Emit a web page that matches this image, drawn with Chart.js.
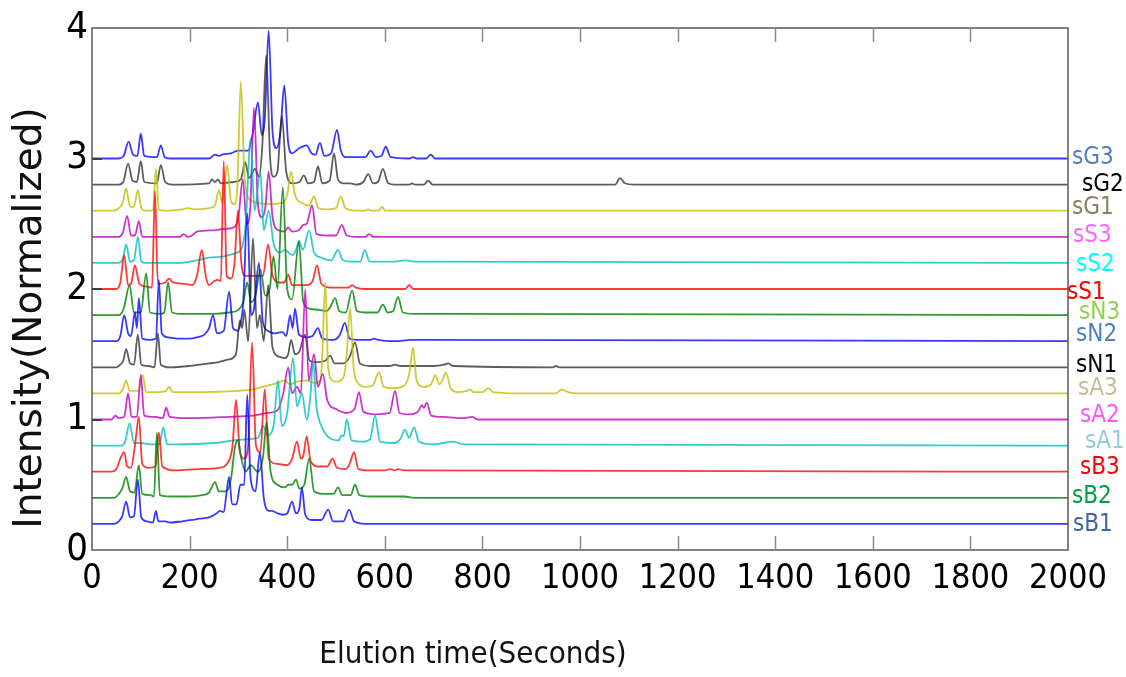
<!DOCTYPE html>
<html><head><meta charset="utf-8">
<script src="https://cdn.jsdelivr.net/npm/chart.js@4.4.1/dist/chart.umd.min.js"></script>
<style>html,body{margin:0;padding:0;background:#fff;}#wrap{width:1126px;height:677px;}</style>
</head><body><div id="wrap"><canvas id="c" width="1126" height="677"></canvas></div>
<script>
// ---- data (bottom to top) ----
const seriesNames = ['sB1','sB2','sB3','sA1','sA2','sA3','sN1','sN2','sN3','sS1','sS2','sS3','sG1','sG2','sG3'];
const baselines = [0.2,0.4,0.6,0.8,1.0,1.2,1.4,1.6,1.8,2.0,2.2,2.4,2.6,2.8,3.0];
const xTickValues = [0,200,400,600,800,1000,1200,1400,1600,1800,2000];
const yTickValues = [0,1,2,3,4];

const sB1 = [[0,0.2],[45,0.2],[55,0.22],[62,0.26],[70,0.37],[78,0.25],[86,0.26],[94,0.54],[101,0.25],[112,0.22],[125,0.21],[131,0.3],[136,0.22],[150,0.22],[160,0.21],[185,0.22],[205,0.23],[220,0.24],[240,0.25],[255,0.28],[262,0.3],[270,0.29],[276,0.45],[281,0.56],[287,0.35],[296,0.35],[304,0.5],[312,0.5],[318,1.19],[325,0.55],[335,0.45],[344,0.75],[352,0.4],[362,0.3],[369,0.3],[380,0.28],[392,0.27],[400,0.28],[410,0.37],[418,0.28],[425,0.32],[430,0.48],[437,0.27],[450,0.23],[470,0.23],[484,0.31],[494,0.22],[515,0.22],[527,0.31],[537,0.22],[560,0.2],[2000,0.2]];
const sB2 = [[0,0.4],[45,0.4],[55,0.43],[62,0.47],[70,0.56],[78,0.45],[87,0.44],[96,0.65],[103,0.43],[120,0.42],[127,0.41],[133,0.9],[139,0.42],[160,0.41],[200,0.41],[225,0.42],[240,0.44],[252,0.52],[260,0.45],[275,0.45],[285,0.55],[293,0.79],[299,0.84],[306,0.7],[315,0.6],[325,0.65],[340,0.6],[350,0.7],[358,0.98],[366,0.6],[380,0.5],[395,0.48],[402,0.5],[410,0.5],[418,0.54],[425,0.47],[435,0.5],[445,0.7],[455,0.45],[475,0.43],[495,0.43],[504,0.48],[513,0.42],[530,0.42],[539,0.5],[548,0.42],[570,0.41],[640,0.41],[660,0.4],[2000,0.4]];
const sB3 = [[0,0.6],[40,0.6],[50,0.62],[58,0.7],[66,0.75],[72,0.64],[80,0.63],[88,0.8],[96,1.02],[103,0.66],[115,0.63],[130,0.64],[137,0.9],[144,0.64],[170,0.61],[220,0.62],[260,0.63],[280,0.68],[288,0.8],[295,1.15],[303,0.75],[312,0.7],[320,0.8],[328,1.59],[336,0.8],[345,0.75],[354,1.23],[362,0.7],[380,0.66],[400,0.65],[410,0.7],[420,0.83],[428,0.7],[433,0.72],[440,0.87],[448,0.68],[465,0.64],[482,0.64],[493,0.7],[502,0.63],[520,0.62],[528,0.66],[537,0.75],[546,0.62],[570,0.61],[600,0.61],[612,0.62],[620,0.61],[627,0.62],[640,0.61],[2000,0.6]];
const sA1 = [[0,0.8],[60,0.8],[68,0.83],[77,0.97],[86,0.82],[100,0.82],[120,0.81],[138,0.81],[146,0.94],[154,0.81],[170,0.81],[250,0.82],[290,0.84],[320,0.85],[340,0.86],[351,0.95],[360,0.88],[372,0.95],[381,1.3],[389,0.95],[400,1.05],[412,1.47],[420,1.1],[430,1.2],[440,1.0],[448,1.2],[453,1.45],[460,1.1],[470,0.95],[490,0.85],[505,0.84],[512,0.88],[516,0.87],[522,1.0],[532,0.84],[555,0.83],[570,0.85],[580,1.03],[590,0.83],[620,0.82],[632,0.85],[641,0.92],[650,0.86],[660,0.94],[670,0.83],[700,0.81],[720,0.82],[740,0.83],[760,0.81],[2000,0.8]];
const sA2 = [[0,1.0],[40,1.0],[48,1.03],[55,1.01],[66,1.02],[74,1.2],[81,1.02],[92,1.02],[100,1.34],[107,1.03],[130,1.02],[145,1.01],[152,1.09],[159,1.02],[200,1.01],[280,1.02],[330,1.03],[360,1.05],[380,1.07],[392,1.2],[402,1.4],[410,1.2],[420,1.25],[428,1.2],[437,2.0],[444,1.3],[455,1.5],[463,1.25],[473,1.35],[482,1.15],[500,1.08],[520,1.05],[538,1.08],[547,1.21],[556,1.06],[580,1.04],[610,1.05],[621,1.22],[630,1.05],[650,1.04],[668,1.06],[676,1.11],[680,1.09],[686,1.13],[695,1.03],[720,1.02],[760,1.01],[779,1.02],[790,1.0],[2000,1.0]];
const sA3 = [[0,1.2],[55,1.2],[63,1.23],[70,1.3],[77,1.22],[95,1.22],[104,1.34],[111,1.21],[140,1.21],[152,1.22],[158,1.25],[165,1.21],[200,1.21],[300,1.22],[330,1.23],[348,1.25],[360,1.26],[380,1.28],[395,1.3],[405,1.27],[420,1.29],[440,1.3],[455,1.28],[468,1.3],[472,1.5],[478,2.05],[484,1.4],[492,1.3],[500,1.29],[515,1.32],[522,1.5],[529,1.85],[536,1.4],[545,1.28],[560,1.25],[575,1.26],[588,1.36],[598,1.25],[620,1.24],[640,1.26],[650,1.35],[658,1.55],[665,1.3],[680,1.25],[695,1.27],[703,1.34],[712,1.27],[718,1.3],[725,1.36],[735,1.24],[750,1.21],[768,1.22],[775,1.23],[782,1.21],[800,1.21],[812,1.24],[822,1.21],[880,1.2],[950,1.2],[963,1.23],[975,1.21],[1000,1.2],[2000,1.2]];
const sN1 = [[0,1.4],[50,1.4],[58,1.42],[64,1.45],[70,1.54],[78,1.43],[86,1.42],[94,1.65],[101,1.42],[115,1.41],[128,1.4],[135,1.66],[141,1.42],[160,1.4],[200,1.41],[220,1.42],[240,1.43],[260,1.44],[280,1.46],[295,1.5],[303,1.76],[308,1.7],[312,1.84],[320,1.6],[330,2.39],[338,1.7],[344,1.8],[352,1.6],[361,2.03],[370,1.55],[385,1.48],[395,1.47],[402,1.5],[408,1.61],[416,1.5],[425,1.52],[436,1.65],[446,1.45],[460,1.44],[478,1.45],[488,1.49],[497,1.43],[515,1.43],[528,1.48],[539,1.59],[549,1.43],[570,1.41],[610,1.41],[621,1.42],[632,1.41],[700,1.41],[722,1.42],[730,1.43],[740,1.41],[945,1.4],[950,1.41],[958,1.4],[2000,1.4]];
const sN2 = [[0,1.6],[50,1.6],[58,1.64],[66,1.8],[74,1.66],[80,1.64],[88,1.82],[92,1.7],[96,1.93],[103,1.62],[120,1.61],[131,1.62],[137,2.07],[143,1.66],[155,1.63],[175,1.62],[200,1.62],[215,1.63],[230,1.65],[240,1.7],[248,1.8],[256,1.66],[270,1.68],[281,1.98],[289,1.7],[298,1.68],[305,1.75],[310,1.9],[318,2.58],[326,1.8],[332,1.85],[342,2.2],[350,1.75],[360,1.68],[375,1.66],[390,1.67],[398,1.64],[406,1.8],[411,1.7],[416,1.85],[424,1.65],[440,1.63],[452,1.64],[463,1.7],[472,1.62],[495,1.61],[508,1.65],[518,1.74],[528,1.62],[545,1.61],[570,1.61],[578,1.62],[586,1.61],[620,1.6],[655,1.61],[2000,1.6]];
const sN3 = [[0,1.8],[55,1.8],[65,1.85],[77,2.03],[86,1.82],[100,1.82],[111,2.12],[119,1.82],[140,1.81],[148,1.82],[156,2.05],[164,1.82],[180,1.81],[250,1.81],[280,1.82],[300,1.84],[310,1.9],[318,2.05],[326,1.9],[335,1.95],[345,2.15],[355,1.95],[364,2.0],[372,2.25],[380,2.0],[391,2.78],[400,2.0],[410,1.92],[424,2.36],[433,1.9],[445,1.85],[465,1.84],[480,1.83],[488,1.86],[498,1.93],[507,1.83],[520,1.82],[533,1.99],[543,1.83],[560,1.82],[585,1.82],[596,1.88],[606,1.82],[617,1.83],[627,1.94],[637,1.82],[660,1.81],[690,1.81],[717,1.81],[2000,1.8]];
const sS1 = [[0,2.0],[50,2.0],[58,2.05],[66,2.26],[74,2.03],[80,2.04],[88,2.18],[97,2.04],[110,2.02],[123,2.01],[129,2.75],[135,2.04],[150,2.05],[158,2.08],[166,2.05],[190,2.04],[205,2.03],[215,2.1],[225,2.3],[233,2.1],[240,2.03],[250,2.06],[258,2.07],[264,2.06],[270,2.98],[276,2.1],[285,2.08],[292,2.2],[299,2.6],[306,2.2],[314,2.1],[330,2.1],[350,2.1],[361,2.34],[370,2.1],[385,2.05],[394,2.05],[402,2.11],[410,2.03],[440,2.03],[452,2.06],[461,2.18],[470,2.04],[490,2.01],[525,2.01],[533,2.03],[541,2.01],[560,2.0],[642,2.0],[650,2.03],[658,2.0],[2000,2.0]];
const sS2 = [[0,2.2],[55,2.2],[63,2.23],[70,2.34],[78,2.21],[86,2.22],[94,2.4],[101,2.21],[110,2.2],[180,2.2],[215,2.22],[240,2.24],[270,2.25],[290,2.27],[305,2.3],[315,2.5],[325,3.15],[333,2.6],[345,2.9],[352,2.45],[362,2.6],[372,2.35],[385,2.28],[395,2.3],[410,2.26],[418,2.3],[424,2.37],[432,2.3],[445,2.45],[455,2.28],[470,2.24],[490,2.22],[504,2.3],[514,2.22],[530,2.21],[550,2.21],[559,2.3],[569,2.21],[600,2.21],[620,2.21],[643,2.22],[660,2.21],[2000,2.2]];
const sS3 = [[0,2.4],[55,2.4],[63,2.43],[72,2.56],[80,2.41],[88,2.41],[96,2.52],[103,2.4],[180,2.4],[188,2.42],[196,2.4],[205,2.41],[215,2.44],[250,2.45],[270,2.46],[290,2.47],[300,2.55],[309,2.84],[317,2.5],[324,2.6],[332,3.39],[340,2.65],[348,2.55],[355,2.62],[362,2.9],[370,2.55],[382,2.45],[394,2.44],[402,2.47],[410,2.44],[424,2.45],[432,2.49],[440,2.5],[451,2.64],[460,2.42],[480,2.41],[500,2.41],[512,2.49],[522,2.41],[540,2.4],[560,2.4],[568,2.42],[576,2.4],[2000,2.4]];
const sG1 = [[0,2.6],[45,2.6],[55,2.62],[63,2.66],[70,2.77],[78,2.63],[86,2.63],[94,2.76],[101,2.62],[110,2.6],[125,2.6],[131,2.92],[137,2.61],[150,2.6],[185,2.61],[195,2.62],[210,2.61],[240,2.62],[252,2.64],[260,2.76],[267,2.66],[277,2.95],[285,2.67],[292,2.65],[298,2.8],[305,3.59],[312,2.9],[320,2.7],[340,2.66],[360,2.65],[390,2.66],[400,2.72],[408,2.9],[416,2.72],[430,2.66],[445,2.64],[455,2.71],[464,2.62],[480,2.61],[500,2.62],[510,2.71],[519,2.62],[540,2.6],[560,2.6],[566,2.61],[572,2.6],[588,2.6],[594,2.63],[601,2.6],[2000,2.6]];
const sG2 = [[0,2.8],[55,2.8],[64,2.82],[74,2.96],[83,2.83],[92,2.82],[100,2.98],[107,2.82],[133,2.81],[141,2.95],[150,2.82],[165,2.8],[240,2.81],[246,2.84],[252,2.82],[258,2.84],[264,2.81],[290,2.82],[305,2.84],[314,2.97],[322,2.85],[334,2.92],[342,2.86],[349,3.1],[357,3.79],[365,3.0],[372,2.86],[380,2.9],[389,3.33],[398,2.9],[410,2.81],[425,2.82],[434,2.87],[443,2.81],[455,2.82],[463,2.94],[472,2.81],[487,2.83],[496,3.04],[504,2.84],[515,2.81],[530,2.81],[540,2.8],[556,2.82],[566,2.88],[576,2.81],[586,2.82],[596,2.92],[607,2.81],[620,2.8],[650,2.8],[656,2.81],[662,2.8],[680,2.8],[689,2.83],[698,2.8],[1072,2.8],[1082,2.85],[1092,2.81],[1110,2.8],[2000,2.8]];
const sG3 = [[0,3.0],[55,3.0],[65,3.02],[75,3.13],[84,3.03],[93,3.02],[100,3.19],[107,3.02],[133,3.01],[141,3.1],[149,3.01],[160,3.0],[240,3.0],[252,3.03],[260,3.02],[267,3.03],[285,3.04],[300,3.06],[320,3.06],[330,3.2],[340,3.43],[348,3.18],[354,3.3],[362,3.98],[370,3.2],[378,3.08],[386,3.2],[394,3.56],[402,3.12],[410,3.04],[425,3.08],[440,3.1],[450,3.04],[458,3.03],[467,3.12],[476,3.02],[490,3.04],[502,3.22],[510,3.06],[520,3.01],[540,3.01],[560,3.01],[571,3.06],[582,3.01],[593,3.02],[602,3.09],[612,3.01],[650,3.0],[658,3.01],[666,3.0],[685,3.0],[694,3.03],[703,3.0],[2000,3.0]];

const seriesData = [sB1,sB2,sB3,sA1,sA2,sA3,sN1,sN2,sN3,sS1,sS2,sS3,sG1,sG2,sG3];

// ---- styles ----
const lineColors = ['rgba(0,0,255,0.78)','rgba(0,128,0,0.8)','rgba(255,0,0,0.78)','rgba(0,191,191,0.8)','rgba(191,0,191,0.8)','rgba(191,191,0,0.8)','rgba(30,30,30,0.72)',
  'rgba(0,0,255,0.78)','rgba(0,128,0,0.8)','rgba(255,0,0,0.78)','rgba(0,191,191,0.8)','rgba(191,0,191,0.8)','rgba(191,191,0,0.8)','rgba(30,30,30,0.72)','rgba(0,0,255,0.78)'];
const labelColors = ['#3e65a0','#00a040','#ff0000','#92cddc','#ff55ff','#c4bd97','#000000','#4f81bd','#92d050','#ff0000','#00ffff','#ff66ff','#8b8060','#000000','#4f81bd'];
const labelDx = [5,4,12,17,12,10,8,8,11,-1,8,5,4,14,4];
const labelDy = [1,-1,-4,-4,-4,-5,-2,-6,-2,4,2,-1,-3,0,-1];
const NARROW = "'Liberation Sans Narrow','Arial Narrow','DejaVu Sans Condensed',sans-serif";

const decorPlugin = {
  id: 'decor',
  afterDraw(chart) {
    const ctx = chart.ctx, a = chart.chartArea, xs = chart.scales.x, ys = chart.scales.y;
    ctx.save();
    // frame
    ctx.strokeStyle = '#5a5a5a'; ctx.lineWidth = 1.5;
    ctx.strokeRect(a.left, a.top, a.right - a.left, a.bottom - a.top);
    // inward x ticks top & bottom
    ctx.strokeStyle = '#8a8a8a'; ctx.lineWidth = 1.5;
    xTickValues.forEach(v => {
      if (v === 0 || v === 2000) return;
      const px = Math.round(xs.getPixelForValue(v)) + 0.5;
      ctx.beginPath(); ctx.moveTo(px, a.bottom); ctx.lineTo(px, a.bottom - 14); ctx.stroke();
      ctx.beginPath(); ctx.moveTo(px, a.top); ctx.lineTo(px, a.top + 14); ctx.stroke();
    });
    // inward y ticks
    ctx.strokeStyle = '#404040'; ctx.lineWidth = 2;
    yTickValues.forEach(v => {
      if (v === 0 || v === 4) return;
      const py = Math.round(ys.getPixelForValue(v));
      ctx.beginPath(); ctx.moveTo(a.left, py); ctx.lineTo(a.left + 10, py); ctx.stroke();
    });
    // series labels
    ctx.font = "24px " + NARROW;
    ctx.textAlign = 'left'; ctx.textBaseline = 'middle';
    seriesNames.forEach((n, i) => {
      ctx.fillStyle = labelColors[i];
      ctx.fillText(n, a.right + labelDx[i], ys.getPixelForValue(baselines[i]) + labelDy[i]);
    });
    // axis titles
    ctx.fillStyle = '#111';
    ctx.font = "39px 'DejaVu Sans',sans-serif";
    ctx.save();
    ctx.translate(31, 318); ctx.rotate(-Math.PI / 2);
    ctx.textAlign = 'center'; ctx.textBaseline = 'middle';
    ctx.fillText('Intensity(Normalized)', 0, 0);
    ctx.restore();
    ctx.font = "31px " + NARROW;
    ctx.textAlign = 'center'; ctx.textBaseline = 'middle';
    ctx.fillText('Elution time(Seconds)', 473, 655);
    ctx.restore();
  }
};

new Chart(document.getElementById('c'), {
  type: 'line',
  data: {
    datasets: seriesNames.map((n, i) => ({
      label: n,
      data: seriesData[i],
      borderColor: lineColors[i],
      borderWidth: 1.8,
      pointRadius: 0,
      fill: false,
      cubicInterpolationMode: 'monotone'
    }))
  },
  options: {
    responsive: false,
    devicePixelRatio: 1,
    animation: false,
    layout: { padding: { top: 28, right: 58, left: 0, bottom: 0 } },
    plugins: { legend: { display: false }, tooltip: { enabled: false } },
    scales: {
      x: {
        type: 'linear', min: 0, max: 2000,
        grid: { display: false, drawTicks: false }, border: { display: false },
        afterBuildTicks(s) { s.ticks = xTickValues.map(v => ({ value: v })); },
        afterFit(s) { s.height = 127; },
        ticks: { color: '#000', padding: 9, maxRotation: 0, autoSkip: false, font: { family: NARROW, size: 34 },
                 callback: v => String(v) }
      },
      y: {
        type: 'linear', min: 0, max: 4,
        grid: { display: false, drawTicks: false }, border: { display: false },
        afterBuildTicks(s) { s.ticks = yTickValues.map(v => ({ value: v })); },
        afterFit(s) { s.width = 92; },
        ticks: { color: '#000', padding: 4, font: { family: NARROW, size: 38 }, callback: v => String(v) }
      }
    }
  },
  plugins: [decorPlugin]
});
</script>
</body></html>
